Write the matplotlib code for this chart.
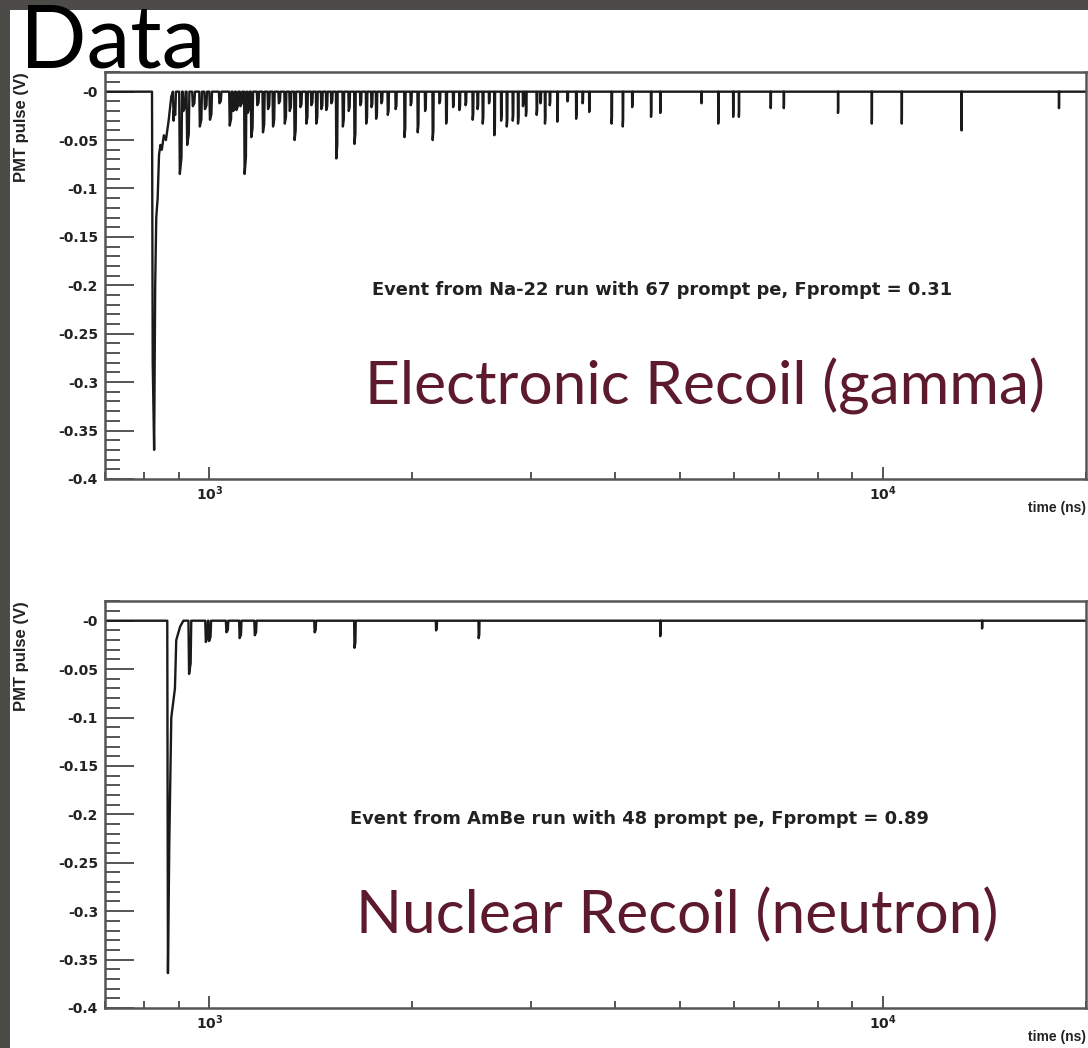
import numpy as np
import matplotlib
matplotlib.use("Agg")
import matplotlib.pyplot as plt
from matplotlib.patches import Rectangle
from matplotlib.ticker import MultipleLocator, NullFormatter

# ---- data (time in ns, pulse in V) ----
top_prompt_t = [700, 822, 824, 828, 831, 834, 838, 842, 846, 850, 856, 862, 870, 878, 886, 895]
top_prompt_v = [0.0, 0.0, -0.28, -0.37, -0.20, -0.13, -0.11, -0.065, -0.055, -0.06, -0.045,
                -0.05, -0.03, -0.005, -0.02, 0.0]

top_spike_t = [904, 927, 968, 1002, 1072, 1097, 1128, 1154, 1201, 1243, 1294, 1338, 1393,
               1441, 1491, 1543, 1578, 1642, 1709, 1768, 1840, 1948, 2038, 2145, 2246, 2350,
               2459, 2545, 2648, 2710, 2763, 2820, 2871, 2950, 3060, 3148, 3284, 3502, 3662,
               3953, 4107, 4241, 4523, 4668, 5374, 5691, 5989, 6107, 6808, 7120, 8569, 9618,
               10655, 13071, 18233]
top_spike_v = [-0.085, -0.055, -0.036, -0.029, -0.035, -0.019, -0.085, -0.047, -0.042, -0.036,
               -0.033, -0.050, -0.033, -0.033, -0.019, -0.069, -0.036, -0.054, -0.033, -0.028,
               -0.024, -0.047, -0.042, -0.050, -0.033, -0.019, -0.029, -0.033, -0.045, -0.030,
               -0.036, -0.030, -0.033, -0.025, -0.024, -0.033, -0.031, -0.028, -0.021, -0.033,
               -0.036, -0.016, -0.026, -0.022, -0.012, -0.033, -0.026, -0.026, -0.017, -0.017,
               -0.022, -0.033, -0.033, -0.040, -0.017]

# smaller single-pe hits filling the dense early part of the top trace
top_small_t = [885, 915, 945, 985, 1035, 1085, 1112, 1140, 1178, 1222, 1268, 1316, 1365,
               1417, 1466, 1517, 1610, 1675, 1740, 1800, 1890, 1990, 2090, 2195, 2300, 2400,
               2500, 2600, 2920, 3100, 3200, 3400, 3580]
top_small_v = [-0.030, -0.020, -0.015, -0.018, -0.012, -0.020, -0.015, -0.022, -0.014, -0.018,
               -0.012, -0.020, -0.016, -0.014, -0.018, -0.012, -0.020, -0.014, -0.016, -0.012,
               -0.018, -0.014, -0.020, -0.012, -0.016, -0.014, -0.018, -0.012, -0.015, -0.012,
               -0.014, -0.010, -0.012]

bot_prompt_t = [700, 866, 868, 872, 878, 889, 893, 905, 915]
bot_prompt_v = [0.0, 0.0, -0.364, -0.23, -0.10, -0.07, -0.02, -0.006, 0.0]

bot_spike_t = [933, 988, 999, 1060, 1109, 1168, 1433, 1642, 2170, 2510, 4668, 14020]
bot_spike_v = [-0.055, -0.022, -0.021, -0.012, -0.018, -0.015, -0.012, -0.028, -0.010,
               -0.018, -0.016, -0.008]

yticks = [0, -0.05, -0.1, -0.15, -0.2, -0.25, -0.3, -0.35, -0.4]
ytick_labels = ["-0", "-0.05", "-0.1", "-0.15", "-0.2", "-0.25", "-0.3", "-0.35", "-0.4"]

top_note = "Event from Na-22 run with 67 prompt pe, Fprompt = 0.31"
bot_note = "Event from AmBe run with 48 prompt pe, Fprompt = 0.89"
top_tag = "Electronic Recoil (gamma)"
bot_tag = "Nuclear Recoil (neutron)"

MAROON = "#5c1a2c"
INK = "#222222"


def build_trace(pt, pv, st, sv):
    """prompt pulse + single photoelectron spikes, merged in time"""
    t = list(pt)
    v = list(pv)
    for ts, vs in zip(st, sv):
        t += [ts - 2, ts, ts + 5, ts + 7]
        v += [0.0, vs, vs * 0.8, 0.0]
    t.append(20000)
    v.append(0.0)
    order = np.argsort(t, kind="stable")
    return np.array(t)[order], np.array(v)[order]


def style_axes(ax):
    ax.set_xscale("log")
    ax.set_xlim(700, 20000)
    ax.set_ylim(-0.4, 0.02)
    ax.set_yticks(yticks, labels=ytick_labels)
    ax.yaxis.set_minor_locator(MultipleLocator(0.01))
    ax.set_xticks([1000, 10000], labels=["10$^{3}$", "10$^{4}$"])
    ax.xaxis.set_minor_formatter(NullFormatter())
    ax.set_facecolor("white")
    for s in ax.spines.values():
        s.set_color("#555555")
        s.set_linewidth(1.8)
    ax.tick_params(axis="y", which="major", direction="in", length=21, width=1.4,
                   color="#555555", pad=5, labelsize=10)
    ax.tick_params(axis="y", which="minor", direction="in", length=10.5, width=1.4,
                   color="#555555")
    ax.tick_params(axis="x", which="major", direction="in", length=9, width=1.4,
                   color="#555555", pad=4, labelsize=10)
    ax.tick_params(axis="x", which="minor", direction="in", length=5, width=1.4,
                   color="#555555")
    for lab in ax.get_yticklabels() + ax.get_xticklabels():
        lab.set_fontweight("bold")
        lab.set_family("DejaVu Sans")
        lab.set_color(INK)
    ax.set_ylabel("PMT pulse (V)", loc="top", fontsize=12, fontweight="bold", color=INK)
    ax.yaxis.set_label_coords(-0.077, 1.0)
    ax.set_xlabel("time (ns)", loc="right", fontsize=10, fontweight="bold", color=INK)
    ax.xaxis.set_label_coords(1.0, -0.055)


plt.rcParams["font.family"] = ["Liberation Sans", "DejaVu Sans"]
plt.rcParams["mathtext.fontset"] = "custom"
plt.rcParams["mathtext.rm"] = "DejaVu Sans:bold"
plt.rcParams["mathtext.it"] = "DejaVu Sans:bold"
plt.rcParams["mathtext.bf"] = "DejaVu Sans:bold"

fig = plt.figure(figsize=(10.88, 10.48), dpi=100)
fig.patch.set_facecolor("#4c4b48")
fig.patches.append(Rectangle((10 / 1088, 0), 1, 1 - 10 / 1048, transform=fig.transFigure,
                             facecolor="white", edgecolor="none", zorder=-10))

ax1 = fig.add_axes([0.0965, 0.543, 0.9017, 0.388])
ax2 = fig.add_axes([0.0965, 0.0382, 0.9017, 0.388])

t1, v1 = build_trace(top_prompt_t, top_prompt_v,
                     top_spike_t + top_small_t, top_spike_v + top_small_v)
t2, v2 = build_trace(bot_prompt_t, bot_prompt_v, bot_spike_t, bot_spike_v)

ax1.plot(t1, v1, color="#1a1a1a", lw=1.7)
ax2.plot(t2, v2, color="#1a1a1a", lw=1.7)

for ax in (ax1, ax2):
    style_axes(ax)

ax1.text(0.568, 0.464, top_note, transform=ax1.transAxes, ha="center", va="center",
         fontsize=12.9, fontweight="bold", color=INK, family="DejaVu Sans")
ax2.text(0.545, 0.464, bot_note, transform=ax2.transAxes, ha="center", va="center",
         fontsize=12.9, fontweight="bold", color=INK, family="DejaVu Sans")
ax1.text(0.612, 0.228, top_tag, transform=ax1.transAxes, ha="center", va="center",
         fontsize=43.5, color=MAROON, family="Lato")
ax2.text(0.583, 0.228, bot_tag, transform=ax2.transAxes, ha="center", va="center",
         fontsize=43.5, color=MAROON, family="Lato")

fig.text(20 / 1088, 1 - 68 / 1048, "Data", ha="left", va="baseline", fontsize=63,
         family="Lato", color="black", zorder=5)

fig.savefig("out.png", dpi=100, facecolor=fig.get_facecolor())
